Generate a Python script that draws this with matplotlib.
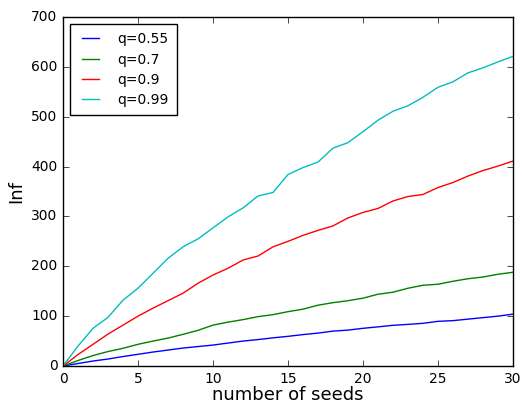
import matplotlib
matplotlib.use("Agg")
import matplotlib.pyplot as plt

plt.style.use("classic")

seeds = list(range(0, 31))
q055 = [0, 5, 10, 14, 19, 23.5, 28, 32, 36, 39, 42, 46, 50, 53, 56.5, 59.5, 63, 66, 70, 72,
        75.6, 78.5, 81.6, 83.5, 85.6, 89.6, 91, 94, 97, 100, 104]
q07 = [0, 11, 21, 29, 35.5, 43.5, 50, 56, 63.5, 71.5, 82, 88, 93, 99, 103, 109, 114, 122, 127, 131,
       136, 144, 148, 156, 162, 164, 170, 175, 178.5, 184, 188]
q09 = [0, 23, 43.5, 64, 82, 100, 116, 131, 146, 166, 182.5, 196, 212.6, 220.6, 239, 250, 262, 272,
       281, 297, 308, 316, 331, 340, 344, 358, 368, 381, 392, 401, 411]
q099 = [0, 40, 75.6, 97.6, 132, 156, 186, 216, 239, 255, 277, 299, 317, 341, 348, 384, 398, 409,
        437, 448, 470, 493, 511, 522, 539, 559, 570, 588, 598, 610, 621]

series = [("q=0.55", q055, "b"), ("q=0.7", q07, "g"), ("q=0.9", q09, "r"), ("q=0.99", q099, "c")]

fig = plt.figure(figsize=(5.22, 4.03), dpi=100, facecolor="white")
ax = fig.add_axes([0.1207, 0.0918, 0.862, 0.866])
for label, vals, col in series:
    ax.plot(seeds, vals, color=col, label=label, linewidth=1)
ax.set_xlim(0, 30)
ax.set_ylim(0, 700)
ax.set_xlabel("number of seeds", fontsize=13, labelpad=0)
ax.set_ylabel("Inf", fontsize=13, labelpad=4)
ax.tick_params(labelsize=10, pad=4)
ax.legend(loc="upper left", fontsize=10, handlelength=1.8, handletextpad=1.0,
          borderpad=0.6, labelspacing=0.45)
fig.savefig("out.png", dpi=100, facecolor="white")
